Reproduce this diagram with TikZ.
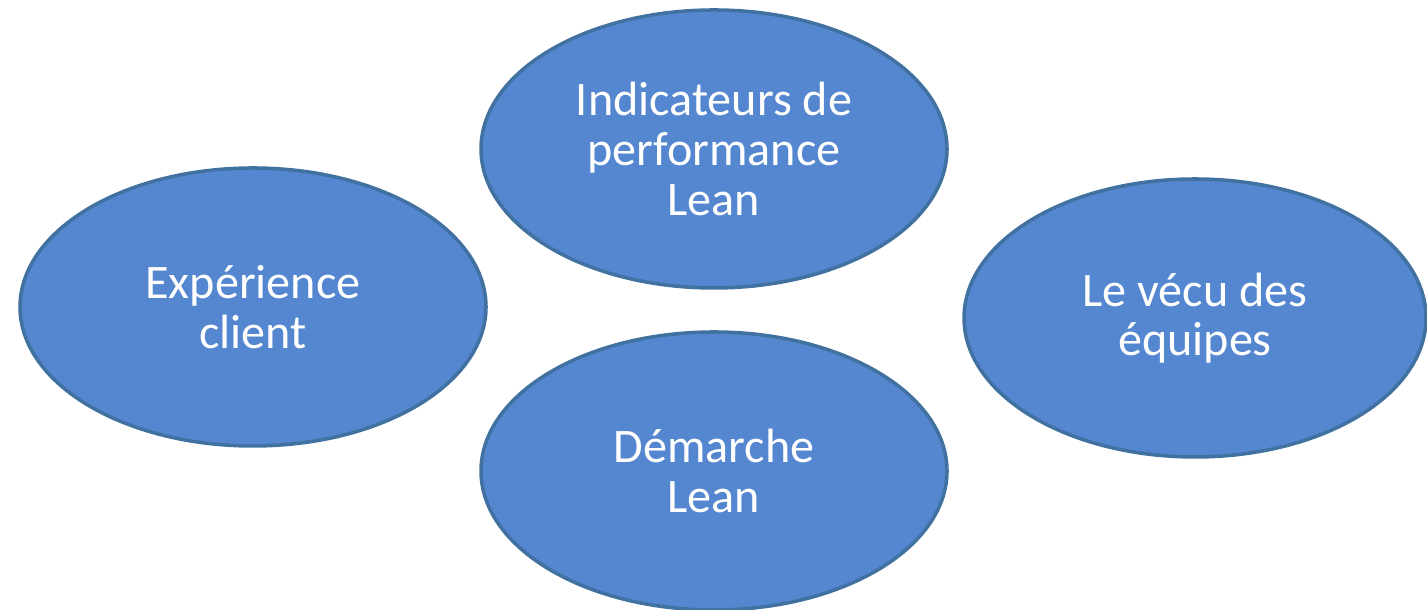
\documentclass[tikz,border=0pt]{standalone}
\usepackage{fontspec}
\setmainfont{Carlito}
\usetikzlibrary{shapes.geometric}
\definecolor{bulle}{RGB}{85,135,208}
\definecolor{bord}{RGB}{65,113,160}
\tikzset{theme/.style={ellipse,draw=bord,line width=1pt,fill=bulle,text=white,
	inner sep=0pt,minimum width=4.66cm,minimum height=2.78cm,align=center,
	font=\fontsize{13.7}{14.1}\selectfont}}
\begin{document}
\begin{tikzpicture}
		\useasboundingbox (0,0) rectangle (14.27,6.10);
		\node[theme] (client) at (2.53,3.03) {Exp\'erience\\client};
		\node[theme] (indic) at (7.14,4.61) {Indicateurs de\\performance\\Lean};
		\node[theme,minimum width=4.62cm] (vecu) at (11.95,2.92) {Le v\'ecu des\\\'equipes};
		\node[theme] (demarche) at (7.14,1.39) {D\'emarche\\Lean};
	\end{tikzpicture}
\end{document}
